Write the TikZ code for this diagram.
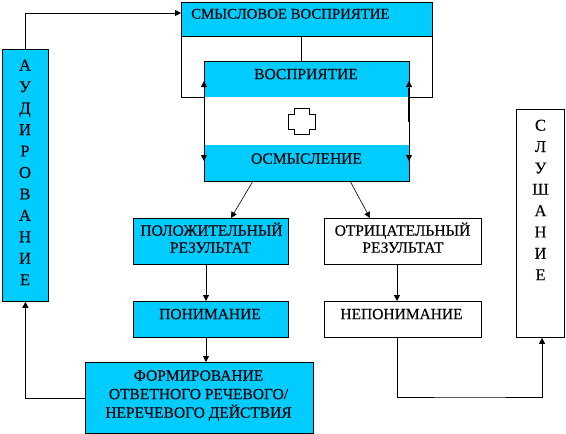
\documentclass[tikz,border=0pt]{standalone}
\usepackage{fontspec}
\setmainfont{Liberation Serif}[FakeBold=0.15]
\usetikzlibrary{arrows.meta,calc}
\definecolor{cy}{RGB}{0,204,255}
\begin{document}
\begin{tikzpicture}[x=1pt,y=-1pt,
  lw/.style={line width=0.8pt},
  arr/.style={lw,-{Triangle[length=6pt,width=6pt]}},
  cbox/.style={draw,lw,fill=cy,inner sep=0pt,anchor=north west},
  wbox/.style={draw,lw,fill=white,inner sep=0pt,anchor=north west},
  fillonly/.style={fill=cy,inner sep=0pt,anchor=north west},
  lbl/.style={inner sep=0pt,text height=10.3pt,text depth=0pt,font=\fontsize{15.5}{18}\selectfont}]
\useasboundingbox (0,0) rectangle (566,434);
% frame behind top box
\node[draw,lw,inner sep=0pt,anchor=north west,minimum width=251pt,minimum height=95pt] (frame) at (181,2) {};
\node[cbox,minimum width=251pt,minimum height=34pt] (sv) at (181,2) {};
% middle block
\node[inner sep=0pt,anchor=north west,fill=white,minimum width=205pt,minimum height=120pt] (blockbg) at (204,61) {};
\node[fillonly,minimum width=205pt,minimum height=36pt] (vos) at (204,61) {};
\node[fillonly,minimum width=205pt,minimum height=36pt] (osm) at (204,145) {};
\node[draw,lw,inner sep=0pt,anchor=north west,minimum width=205pt,minimum height=120pt] (block) at (204,61) {};
\draw[lw] (sv.south -| 301,0) -- (vos.north -| 301,0);
% cross
\draw[lw] (294,108) -- (309,108) -- (309,114) -- (315,114) -- (315,129) -- (309,129) -- (309,134) -- (294,134) -- (294,129) -- (288,129) -- (288,114) -- (294,114) -- cycle;
% edge arrows
\coordinate (lup) at (204,81);
\coordinate (ldn) at (204,161);
\coordinate (rmid) at (409,122);
\coordinate (rup) at (409,81);
\coordinate (rdn) at (409,161);
\draw[arr] (block.west) -- (lup);
\draw[arr] (block.west) -- (ldn);
\draw[line width=2pt] (rmid) -- (409,88);
\draw[arr] (rmid) -- (rup);
\draw[arr] (rmid) -- (rdn);
% lower boxes
\node[cbox,minimum width=155pt,minimum height=46pt] (pos) at (133,218) {};
\node[wbox,minimum width=157pt,minimum height=46pt] (neg) at (324,218) {};
\node[cbox,minimum width=155pt,minimum height=36pt] (pon) at (133,301) {};
\node[wbox,minimum width=157pt,minimum height=36pt] (nep) at (324,301) {};
\node[cbox,minimum width=228pt,minimum height=71pt] (form) at (85,362) {};
\node[cbox,minimum width=46pt,minimum height=252pt] (au) at (2,49) {};
\node[wbox,minimum width=48pt,minimum height=228pt] (sl) at (516,109) {};
% labels
\node[lbl,anchor=west,font=\fontsize{14.8}{18}\selectfont] (t1) at (191,13.5) {СМЫСЛОВОЕ ВОСПРИЯТИЕ};
\node[lbl] (t2) at (306,74) {ВОСПРИЯТИЕ};
\node[lbl] (t3) at (306.5,158.5) {ОСМЫСЛЕНИЕ};
\node[lbl] (t4) at (211.5,230.5) {ПОЛОЖИТЕЛЬНЫЙ};
\node[lbl] (t5) at (210.5,247.5) {РЕЗУЛЬТАТ};
\node[lbl] (t6) at (402.5,230.5) {ОТРИЦАТЕЛЬНЫЙ};
\node[lbl] (t7) at (403,247.5) {РЕЗУЛЬТАТ};
\node[lbl] (t8) at (210,314) {ПОНИМАНИЕ};
\node[lbl] (t9) at (401.5,314) {НЕПОНИМАНИЕ};
\node[lbl] (t10) at (198.5,375.5) {ФОРМИРОВАНИЕ};
\node[lbl] (t11) at (198.5,394) {ОТВЕТНОГО РЕЧЕВОГО/};
\node[lbl] (t12) at (198.5,412.5) {НЕРЕЧЕВОГО ДЕЙСТВИЯ};
\foreach \l [count=\i from 0] in {А,У,Д,И,Р,О,В,А,Н,И,Е}
  \node[lbl,font=\fontsize{16.5}{18}\selectfont] (a\i) at (25,65.5+21.45*\i) {\l};
\foreach \l [count=\i from 0] in {С,Л,У,Ш,А,Н,И,Е}
  \node[lbl,font=\fontsize{16.5}{18}\selectfont] (s\i) at (540.5,125.5+21.36*\i) {\l};
% connectors
\coordinate (svin) at (181,13);
\draw[arr] (au.north) |- (svin);
\draw[arr] (form.west) -| (au.south);
\coordinate (o1) at (253,181);
\coordinate (p1) at (231,218);
\coordinate (o2) at (350,181);
\coordinate (n1) at (370,218);
\draw[arr,line width=0.6pt] (o1) -- (p1);
\draw[arr,line width=0.6pt] (o2) -- (n1);
\draw[arr] (pos.south -| 206,0) -- (pon.north -| 206,0);
\draw[arr] (pon.south -| 206,0) -- (form.north -| 206,0);
\draw[arr] (neg.south -| 397,0) -- (nep.north -| 397,0);
\draw[arr] (nep.south -| 397,0) |- (470,397) -| (sl.south -| 542,0);
\end{tikzpicture}
\end{document}
